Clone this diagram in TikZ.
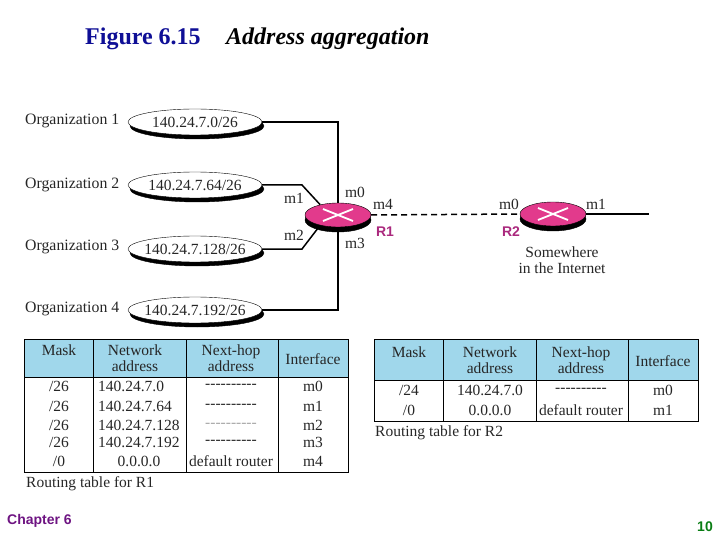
\documentclass[tikz,border=0pt]{standalone}
\usepackage{fontspec}
\setmainfont{Liberation Serif}
\setsansfont{Liberation Sans}
\usetikzlibrary{shapes.geometric,shadows}

\definecolor{routerpink}{RGB}{226,58,140}
\definecolor{headblue}{RGB}{160,215,235}
\definecolor{chapterpurple}{RGB}{110,20,130}
\definecolor{pagegreen}{RGB}{10,125,20}
\definecolor{titleblue}{RGB}{15,15,150}
\definecolor{rlabel}{RGB}{170,40,125}

\newcommand{\nohop}{-{}-{}-{}-{}-{}-{}-{}-{}-{}-}
\newcommand{\addr}[1]{\makebox[0pt]{#1}}

\begin{document}
\begin{tikzpicture}[
    x=1pt, y=-1pt,
    network/.style={
      % The shape:
      ellipse,
      minimum width=134pt,
      minimum height=26pt,
      inner sep=0pt,
      % The border:
      draw=black,
      fill=white,
      font=\fontsize{15.5}{17}\selectfont,
      text=black!85,
      copy shadow={shadow xshift=2pt, shadow yshift=-4pt, fill=black, draw=black},
    },
    router/.style={
      ellipse,
      minimum width=66pt,
      minimum height=24pt,
      inner sep=0pt,
      fill=routerpink,
      draw=black,
      copy shadow={shadow xshift=0pt, shadow yshift=-5pt, fill=black, draw=black},
      path picture={
        \draw[white, line width=1.8pt]
          ([shift={(-15pt,-6pt)}]path picture bounding box.center) --
          ([shift={(15pt,6pt)}]path picture bounding box.center);
        \draw[white, line width=1.8pt]
          ([shift={(-15pt,6pt)}]path picture bounding box.center) --
          ([shift={(15pt,-6pt)}]path picture bounding box.center);
      },
    },
    link/.style={line width=1.5pt},
    caption/.style={font=\fontsize{15.5}{17}\selectfont, anchor=west, text=black!85, inner sep=0pt},
    orglabel/.style={font=\fontsize{15.8}{17}\selectfont, anchor=west, text=black!85, inner sep=0pt},
    port/.style={font=\fontsize{15.5}{17}\selectfont, text=black!85, inner sep=0pt},
    cell/.style={font=\fontsize{15.5}{16}\selectfont, align=center, text=black!85, inner sep=0pt},
    rname/.style={font=\fontsize{14}{16}\selectfont\bfseries\sffamily, text=rlabel, inner sep=0pt},
    head/.style={fill=headblue, draw=none},
    grid/.style={draw=black, line width=0.9pt},
  ]

    \useasboundingbox (0,0) rectangle (720,540);

    \node[font=\fontsize{24}{26}\selectfont\bfseries, text=titleblue, anchor=west, inner sep=0pt] (title) at (85,39) {Figure 6.15};
    \node[font=\fontsize{24}{26}\selectfont\bfseries\itshape, text=black, anchor=west, inner sep=0pt] (subtitle) at (226,39) {Address aggregation};

    % the routers
    \node[router] (r1) at (338,215) {};
    \node[router] (r2) at (553,214) {};

    % the organizations
    \foreach \i/\ypos in {1/121, 2/185, 3/247, 4/309} {
      \node[orglabel] (label\i) at (25,\ypos) {Organization \i};
    }
    \node[network] (org1) at (195,122) {\addr{140.24.7.0/26}};
    \node[network] (org2) at (195,185) {\addr{140.24.7.64/26}};
    \node[network] (org3) at (195,249) {\addr{140.24.7.128/26}};
    \node[network] (org4) at (195,310) {\addr{140.24.7.192/26}};

    \coordinate (bend2) at (302,185);
    \coordinate (bend3) at (302,249);
    \coordinate (end) at (649,214);

    \draw[link] (org1.east) -| (r1.north);
    \draw[link] (org4.east) -| (r1.south);
    \draw[link] (org2.east) -- (bend2) -- (r1.150);
    \draw[link] (org3.east) -- (bend3) -- (r1.210);
    \draw[link, dash pattern=on 6pt off 4pt] (r1.east) -- (r2.west);
    \draw[link] (r2.east) -- (end);

    \node[port] (r1m0) at (355,192) {m0};
    \node[port] (r1m1) at (294,198) {m1};
    \node[port] (r1m2) at (294,235) {m2};
    \node[port] (r1m3) at (355,243) {m3};
    \node[port] (r1m4) at (383,204) {m4};
    \node[port] (r2m0) at (509,204) {m0};
    \node[port] (r2m1) at (596,204) {m1};
    \node[rname] (r1name) at (385,232) {R1};
    \node[rname] (r2name) at (511,232) {R2};
    \node[cell] (where) at (562,260) {Somewhere\\in the Internet};

    % routing table for R1
    \path[head] (24,339) rectangle (348,377);
    \draw[grid] (24,339) rectangle (348,472);
    \draw[grid] (24,377) -- (348,377);
    \foreach \x in {93,186,278} \draw[grid] (\x,339) -- (\x,472);
    \node[cell] (maska) at (59,350) {Mask};
    \node[cell] (neta) at (135,358) {Network\\address};
    \node[cell] (hopa) at (231,358) {Next-hop\\address};
    \node[cell] (ifa) at (313,359) {Interface};
    \foreach \y/\m/\a/\nx/\n/\h/\p in {
        386/{/26}/west/98/140.24.7.0/{\nohop}/m0,
        406/{/26}/west/98/140.24.7.64/{\nohop}/m1,
        425/{/26}/west/98/140.24.7.128/{\textcolor{black!35}{\nohop}}/m2,
        442/{/26}/west/98/140.24.7.192/{\nohop}/m3,
        461/{/0}/center/139/0.0.0.0/default router/m4} {
      \node[cell] at (59,\y) {\m};
      \node[cell, anchor=\a] at (\nx,\y) {\n};
      \node[cell] at (231,\y) {\h};
      \node[cell] at (313,\y) {\p};
    }
    \node[caption] (capa) at (26,484) {Routing table for R1};

    % routing table for R2
    \path[head] (374,339) rectangle (698,380);
    \draw[grid] (374,339) rectangle (698,421);
    \draw[grid] (374,380) -- (698,380);
    \foreach \x in {443,536,628} \draw[grid] (\x,339) -- (\x,421);
    \node[cell] (maskb) at (409,352) {Mask};
    \node[cell] (netb) at (490,360) {Network\\address};
    \node[cell] (hopb) at (581,360) {Next-hop\\address};
    \node[cell] (ifb) at (663,361) {Interface};
    \foreach \y/\m/\n/\h/\p in {
        390/{/24}/140.24.7.0/{\nohop}/m0,
        410/{/0}/0.0.0.0/default router/m1} {
      \node[cell] at (409,\y) {\m};
      \node[cell] at (490,\y) {\n};
      \node[cell] at (581,\y) {\h};
      \node[cell] at (663,\y) {\p};
    }
    \node[caption] (capb) at (375,433) {Routing table for R2};

    \node[font=\sffamily\bfseries\fontsize{14}{16}\selectfont, text=chapterpurple, anchor=west, inner sep=0pt] (chapter) at (7,521) {Chapter 6};
    \node[font=\sffamily\bfseries\fontsize{14}{16}\selectfont, text=pagegreen, anchor=east, inner sep=0pt] (page) at (713,527) {10};
\end{tikzpicture}
\end{document}
